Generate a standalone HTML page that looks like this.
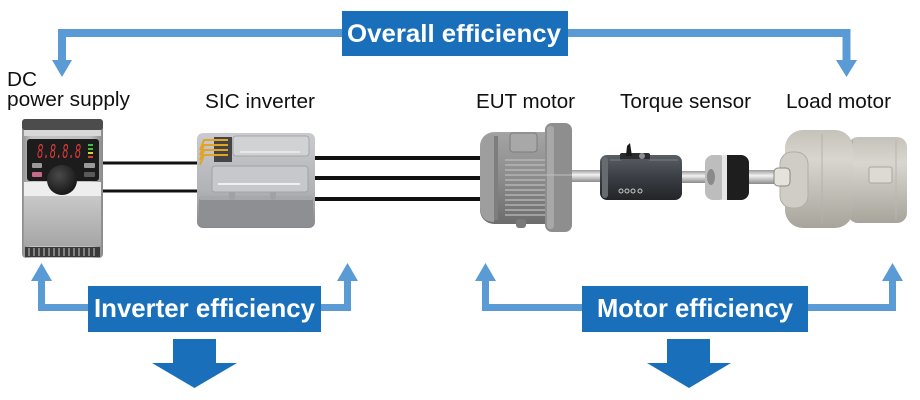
<!DOCTYPE html>
<html>
<head>
<meta charset="utf-8">
<style>
html,body{margin:0;padding:0;background:#fff;}
svg{display:block;}
</style>
</head>
<body>
<svg width="920" height="400" viewBox="0 0 920 400" xmlns="http://www.w3.org/2000/svg">
<defs>
  <linearGradient id="psu" x1="0" y1="0" x2="1" y2="0">
    <stop offset="0" stop-color="#8f8f8f"/>
    <stop offset="0.12" stop-color="#c4c4c4"/>
    <stop offset="0.85" stop-color="#bdbdbd"/>
    <stop offset="1" stop-color="#8a8a8a"/>
  </linearGradient>
  <linearGradient id="psuv" x1="0" y1="0" x2="0" y2="1">
    <stop offset="0" stop-color="#c8c8c8"/>
    <stop offset="1" stop-color="#a6a6a6"/>
  </linearGradient>
  <linearGradient id="inv" x1="0" y1="0" x2="0" y2="1">
    <stop offset="0" stop-color="#c9cbce"/>
    <stop offset="0.6" stop-color="#b1b3b6"/>
    <stop offset="1" stop-color="#86888c"/>
  </linearGradient>
  <linearGradient id="mot" x1="0" y1="0" x2="0" y2="1">
    <stop offset="0" stop-color="#a4a4a4"/>
    <stop offset="0.5" stop-color="#8c8c8c"/>
    <stop offset="1" stop-color="#6c6c6c"/>
  </linearGradient>
  <linearGradient id="shaft" x1="0" y1="0" x2="0" y2="1">
    <stop offset="0" stop-color="#9a9a9a"/>
    <stop offset="0.4" stop-color="#f2f2f2"/>
    <stop offset="1" stop-color="#8a8a8a"/>
  </linearGradient>
  <linearGradient id="ts" x1="0" y1="0" x2="0" y2="1">
    <stop offset="0" stop-color="#5a5f66"/>
    <stop offset="0.5" stop-color="#3a3e44"/>
    <stop offset="1" stop-color="#222427"/>
  </linearGradient>
  <linearGradient id="load" x1="0" y1="0" x2="0" y2="1">
    <stop offset="0" stop-color="#c4c2b9"/>
    <stop offset="0.3" stop-color="#d8d6ce"/>
    <stop offset="1" stop-color="#a6a49b"/>
  </linearGradient>
  <radialGradient id="knob" cx="0.4" cy="0.35" r="0.7">
    <stop offset="0" stop-color="#4a4a4a"/>
    <stop offset="1" stop-color="#141414"/>
  </radialGradient>
</defs>

<!-- ===== Top overall efficiency connector ===== -->
<g fill="none" stroke="#5b9bd5" stroke-width="8">
  <polyline points="342,33 62,33 62,61"/>
  <polyline points="568,33 846.5,33 846.5,61"/>
</g>
<g fill="#5b9bd5">
  <polygon points="52,60 72,60 62,77"/>
  <polygon points="836,60 857,60 846.5,77"/>
</g>
<rect x="342" y="11" width="226" height="45" fill="#1a6fba"/>
<text x="347" y="42" fill="#fff" font-family="Liberation Sans, Arial, sans-serif" font-weight="bold" font-size="25" textLength="214" lengthAdjust="spacingAndGlyphs">Overall efficiency</text>

<!-- ===== Labels ===== -->
<g font-family="Liberation Sans, Arial, sans-serif" font-size="20" fill="#111">
  <text x="7" y="86" textLength="30" lengthAdjust="spacingAndGlyphs">DC</text>
  <text x="7" y="106" textLength="123" lengthAdjust="spacingAndGlyphs">power supply</text>
  <text x="205" y="108" textLength="110" lengthAdjust="spacingAndGlyphs">SIC inverter</text>
  <text x="476" y="108" textLength="99" lengthAdjust="spacingAndGlyphs">EUT motor</text>
  <text x="620" y="108" textLength="131" lengthAdjust="spacingAndGlyphs">Torque sensor</text>
  <text x="786" y="108" textLength="105" lengthAdjust="spacingAndGlyphs">Load motor</text>
</g>

<!-- ===== Wires ===== -->
<g stroke="#111" stroke-width="3">
  <line x1="103" y1="163" x2="201" y2="163"/>
  <line x1="103" y1="191" x2="201" y2="191"/>
</g>
<g stroke="#111" stroke-width="4">
  <line x1="314" y1="158" x2="484" y2="158"/>
  <line x1="314" y1="178" x2="484" y2="178"/>
  <line x1="314" y1="199" x2="484" y2="199"/>
</g>

<!-- ===== DC power supply ===== -->
<g>
  <rect x="22" y="119" width="81" height="139" rx="4" fill="url(#psu)"/>
  <rect x="22" y="119" width="81" height="11" rx="3" fill="#4c4c4c"/>
  <rect x="24" y="130" width="77" height="6" fill="#d8d8d8"/>
  <rect x="24" y="182" width="77" height="14" fill="#eeeeee"/>
  <rect x="24" y="196" width="77" height="50" fill="url(#psuv)"/>
  <rect x="27" y="139" width="72" height="42" rx="3" fill="#1c1c1c"/>
  <text x="37" y="158" font-family="Liberation Mono, monospace" font-style="italic" font-size="21" fill="#e23a3a" textLength="44" lengthAdjust="spacingAndGlyphs">8.8.8.8</text>
  <rect x="88" y="144" width="5" height="2" fill="#3fbf3f"/>
  <rect x="88" y="148" width="5" height="2" fill="#3fbf3f"/>
  <rect x="88" y="152" width="5" height="2" fill="#e0d030"/>
  <rect x="88" y="156" width="5" height="2" fill="#e04030"/>
  <rect x="32" y="163" width="10" height="5" rx="1" fill="#9a9a9a"/>
  <rect x="32" y="172" width="10" height="5" rx="1" fill="#c86a88"/>
  <rect x="84" y="163" width="11" height="5" rx="1" fill="#9a9a9a"/>
  <rect x="84" y="172" width="11" height="5" rx="1" fill="#5a5a5a"/>
  <circle cx="62" cy="180" r="15" fill="url(#knob)"/>
  <rect x="25" y="247" width="75" height="10" fill="#3a3a3a"/>
  <g stroke="#c8c8c8" stroke-width="1">
    <line x1="29" y1="248" x2="29" y2="256"/><line x1="34" y1="248" x2="34" y2="256"/>
    <line x1="39" y1="248" x2="39" y2="256"/><line x1="44" y1="248" x2="44" y2="256"/>
    <line x1="49" y1="248" x2="49" y2="256"/><line x1="54" y1="248" x2="54" y2="256"/>
    <line x1="59" y1="248" x2="59" y2="256"/><line x1="64" y1="248" x2="64" y2="256"/>
    <line x1="69" y1="248" x2="69" y2="256"/><line x1="74" y1="248" x2="74" y2="256"/>
    <line x1="79" y1="248" x2="79" y2="256"/><line x1="84" y1="248" x2="84" y2="256"/>
    <line x1="89" y1="248" x2="89" y2="256"/><line x1="94" y1="248" x2="94" y2="256"/>
  </g>
</g>

<!-- ===== SIC inverter ===== -->
<g>
  <rect x="197" y="133" width="118" height="95" rx="6" fill="url(#inv)"/>
  <rect x="199" y="196" width="114" height="31" rx="5" fill="#8d8f93"/>
  <rect x="200" y="196" width="112" height="4" fill="#a6a8ab"/>
  <rect x="229" y="188" width="6" height="12" rx="3" fill="#9fa1a4"/>
  <rect x="270" y="188" width="6" height="12" rx="3" fill="#9fa1a4"/>
  <rect x="233" y="136" width="76" height="20" rx="3" fill="#d0d2d4" stroke="#a4a6a9" stroke-width="1"/>
  <rect x="212" y="166" width="96" height="26" rx="3" fill="#c6c8cb" stroke="#a0a2a5" stroke-width="1"/>
  <line x1="218" y1="184" x2="300" y2="184" stroke="#eef0f2" stroke-width="2"/>
  <line x1="240" y1="152" x2="300" y2="152" stroke="#eef0f2" stroke-width="1.5"/>
  <rect x="214" y="137" width="18" height="25" fill="#444"/>
  <g stroke="#e2a427" stroke-width="2" fill="none">
    <path d="M200,150 L204,140 L228,140"/>
    <path d="M200,155 L204,145 L228,145"/>
    <path d="M200,160 L204,150 L228,150"/>
    <path d="M200,165 L204,155 L228,155"/>
  </g>
</g>

<!-- ===== EUT motor ===== -->
<g>
  <rect x="480" y="132" width="82" height="92" rx="14" fill="url(#mot)"/>
  <path d="M494,134 Q480,134 480,150 L480,206 Q480,222 494,222 Z" fill="#9e9e9e"/>
  <rect x="494" y="136" width="4" height="84" fill="#7e7e7e"/>
  <rect x="510" y="133" width="27" height="19" rx="3" fill="#a8a8a8" stroke="#7c7c7c" stroke-width="1"/>
  <g stroke="#bdbdbd" stroke-width="1.2">
    <line x1="505" y1="160" x2="547" y2="160"/><line x1="505" y1="165" x2="547" y2="165"/>
    <line x1="505" y1="170" x2="547" y2="170"/><line x1="505" y1="175" x2="547" y2="175"/>
    <line x1="505" y1="180" x2="547" y2="180"/><line x1="505" y1="185" x2="547" y2="185"/>
    <line x1="505" y1="190" x2="547" y2="190"/><line x1="505" y1="195" x2="547" y2="195"/>
    <line x1="505" y1="200" x2="547" y2="200"/><line x1="505" y1="205" x2="547" y2="205"/>
    <line x1="505" y1="210" x2="547" y2="210"/><line x1="505" y1="215" x2="547" y2="215"/>
  </g>
  <rect x="516" y="219" width="10" height="9" rx="3" fill="#7a7a7a"/>
  <rect x="545" y="123" width="27" height="109" rx="7" fill="#8e8e8e"/>
  <rect x="547" y="126" width="7" height="103" rx="3" fill="#a8a8a8"/>
  <line x1="545" y1="175" x2="572" y2="175" stroke="#c0c0c0" stroke-width="1"/>
</g>

<!-- ===== shafts ===== -->
<rect x="572" y="170" width="31" height="12" fill="url(#shaft)"/>
<rect x="681" y="171" width="26" height="12" fill="url(#shaft)"/>
<rect x="747" y="170" width="32" height="14" fill="url(#shaft)"/>

<!-- ===== Torque sensor ===== -->
<g>
  <rect x="600" y="155" width="82" height="45" rx="7" fill="url(#ts)"/>
  <rect x="602" y="157" width="6" height="41" rx="3" fill="#666b72"/>
  <rect x="620" y="153" width="30" height="8" rx="2" fill="#2a2c30"/>
  <polygon points="626,156 627,146 630,143 632,156" fill="#1a1a1a"/>
  <circle cx="642" cy="156" r="3" fill="#8a8d92"/>
  <line x1="610" y1="160" x2="678" y2="160" stroke="#7a7f86" stroke-width="1"/>
  <g fill="none" stroke="#c8c8c8" stroke-width="1">
    <circle cx="621" cy="191" r="2"/><circle cx="627" cy="191" r="2"/>
    <circle cx="633" cy="191" r="2"/><circle cx="640" cy="191" r="2"/>
  </g>
</g>

<!-- ===== Coupling ===== -->
<g>
  <rect x="718" y="155" width="31" height="45" rx="8" fill="#1e1e1e"/>
  <rect x="705" y="155" width="22" height="45" rx="8" fill="#bdbdbd"/>
  <rect x="722" y="155" width="5" height="45" fill="#e6e6e6"/>
  <ellipse cx="711" cy="177" rx="4" ry="8" fill="#8a8a8a"/>
</g>

<!-- ===== Load motor ===== -->
<g>
  <rect x="848" y="137" width="59" height="86" rx="10" fill="url(#load)"/>
  <line x1="852" y1="140" x2="852" y2="220" stroke="#a8a69e" stroke-width="1.5"/>
  <line x1="896" y1="140" x2="896" y2="220" stroke="#b8b6ae" stroke-width="1"/>
  <rect x="869" y="167" width="23" height="16" rx="2" fill="#dcdad2" stroke="#a8a69e" stroke-width="1"/>
  <rect x="785" y="130" width="68" height="98" rx="18" fill="url(#load)"/>
  <line x1="822" y1="134" x2="822" y2="224" stroke="#b4b2aa" stroke-width="1"/>
  <rect x="780" y="152" width="28" height="56" rx="12" fill="#cfcdc5" stroke="#b0aea6" stroke-width="1"/>
  <rect x="774" y="168" width="16" height="18" rx="4" fill="#e4e2dc" stroke="#8a8880" stroke-width="1"/>
</g>

<!-- ===== Inverter efficiency ===== -->
<g fill="none" stroke="#5b9bd5" stroke-width="7">
  <polyline points="89,307.5 41.5,307.5 41.5,280"/>
  <polyline points="320,307.5 347.5,307.5 347.5,280"/>
</g>
<g fill="#5b9bd5">
  <polygon points="31,281 52,281 41.5,263"/>
  <polygon points="337,281 358,281 347.5,263"/>
</g>
<rect x="88" y="286" width="233" height="46" fill="#1a6fba"/>
<text x="94" y="317" fill="#fff" font-family="Liberation Sans, Arial, sans-serif" font-weight="bold" font-size="26" textLength="221" lengthAdjust="spacingAndGlyphs">Inverter efficiency</text>
<rect x="173" y="339" width="43" height="25" fill="#1a6fba"/>
<polygon points="152,363 237,363 194.5,388" fill="#1a6fba"/>

<!-- ===== Motor efficiency ===== -->
<g fill="none" stroke="#5b9bd5" stroke-width="7">
  <polyline points="583,307.5 485.5,307.5 485.5,280"/>
  <polyline points="807,307.5 892.5,307.5 892.5,280"/>
</g>
<g fill="#5b9bd5">
  <polygon points="475,281 496,281 485.5,263"/>
  <polygon points="882,281 903,281 892.5,263"/>
</g>
<rect x="582" y="286" width="226" height="46" fill="#1a6fba"/>
<text x="597" y="317" fill="#fff" font-family="Liberation Sans, Arial, sans-serif" font-weight="bold" font-size="26" textLength="196" lengthAdjust="spacingAndGlyphs">Motor efficiency</text>
<rect x="667" y="339" width="43" height="25" fill="#1a6fba"/>
<polygon points="647,363 731,363 689,388" fill="#1a6fba"/>
</svg>
</body>
</html>
